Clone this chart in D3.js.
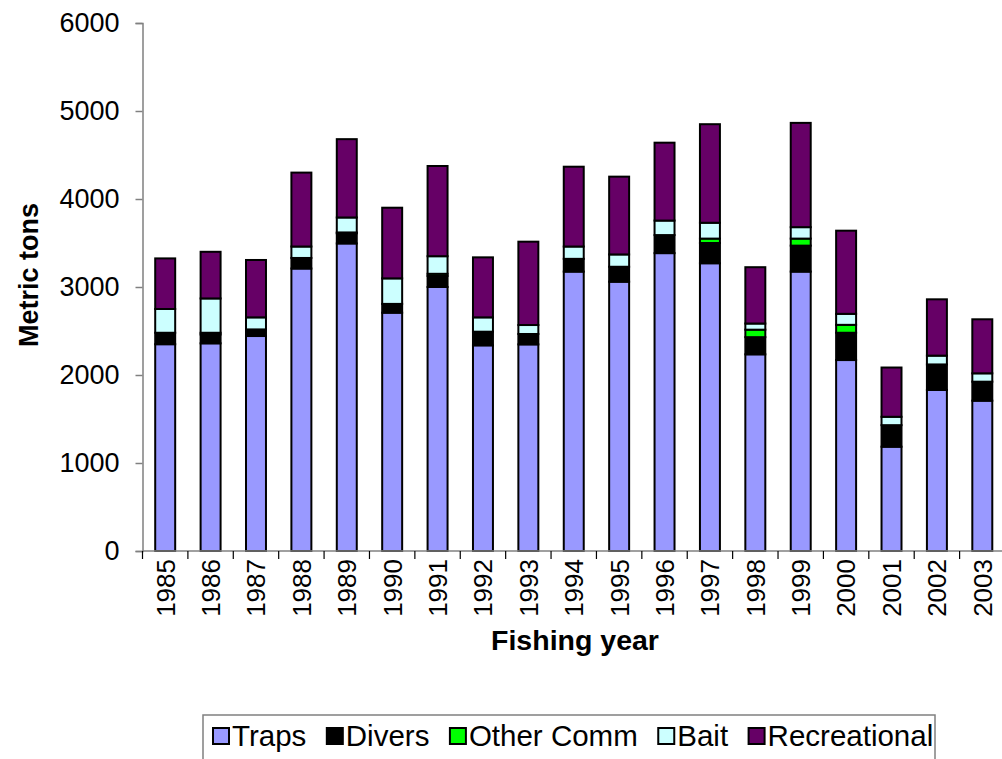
<!DOCTYPE html>
<html>
<head>
<meta charset="utf-8">
<script src="https://cdn.jsdelivr.net/npm/d3@7"></script>
<style>
  html, body { margin: 0; padding: 0; background: #fff; }
  svg { display: block; font-family: Arial, "Liberation Sans", sans-serif; }
</style>
</head>
<body>
<svg id="chart" width="1002" height="759"></svg>
<script>
// Landings by fishing year, metric tons, by sector
const years = ["1985","1986","1987","1988","1989","1990","1991","1992","1993","1994",
               "1995","1996","1997","1998","1999","2000","2001","2002","2003"];
const traps        = [2350, 2360, 2443, 3210, 3495, 2708, 3000, 2337, 2348, 3175, 3060, 3385, 3270, 2235, 3175, 2170, 1185, 1830, 1708];
const divers       = [ 130,  100,   75,  120,  115,  100,  125,  155,  118,  145,  170,  205,  230,  195,  295,  310,  245,  290,  216];
const otherComm    = [   0,   20,    0,    0,   10,    0,   25,    0,    0,    0,    0,    0,   50,   85,   80,   90,    0,    0,    0];
const bait         = [ 270,  390,  137,  130,  170,  290,  200,  163,  102,  140,  140,  165,  180,   70,  130,  125,   95,  100,   95];
const recreational = [ 575,  530,  652,  840,  890,  803, 1025,  682,  947,  907,  884,  885, 1120,  640, 1185,  945,  560,  640,  614];
const yTicks = [0, 1000, 2000, 3000, 4000, 5000, 6000];

const seriesNames = ["Traps", "Divers", "Other Comm", "Bait", "Recreational"];
const seriesColors = ["#9999ff", "#000000", "#00ff00", "#ccffff", "#660066"];
const seriesValues = [traps, divers, otherComm, bait, recreational];

const rows = years.map((y, i) => {
  const r = { year: y };
  seriesNames.forEach((n, k) => { r[n] = seriesValues[k][i]; });
  return r;
});

const svg = d3.select("#chart");
const plotLeft = 142.5, plotRight = 1005, plotTop = 23, plotBottom = 551;

const x = d3.scaleBand().domain(years).range([plotLeft, plotRight])
  .paddingInner(0.56).paddingOuter(0.28);
const y = d3.scaleLinear().domain([0, 6000]).range([plotBottom, plotTop]);

const stack = d3.stack().keys(seriesNames);
const layers = stack(rows);

// stacked bars
const g = svg.append("g");
layers.forEach((layer, k) => {
  g.selectAll(null).data(layer.filter(d => d[1] - d[0] > 0)).enter().append("rect")
    .attr("x", d => x(d.data.year))
    .attr("width", x.bandwidth())
    .attr("y", d => y(d[1]))
    .attr("height", d => y(d[0]) - y(d[1]))
    .attr("fill", seriesColors[k])
    .attr("stroke", "#000")
    .attr("stroke-width", 2);
});

// y axis
const yAxis = d3.axisLeft(y).tickValues(yTicks).tickSize(7).tickPadding(16).tickFormat(d3.format("d"));
const ya = svg.append("g").attr("transform", `translate(${plotLeft},0)`).call(yAxis);
ya.select(".domain").attr("stroke", "#808080").attr("stroke-width", 1.5);
ya.selectAll(".tick line").attr("stroke", "#808080").attr("stroke-width", 1.5);
ya.selectAll(".tick text").attr("font-size", 27).attr("fill", "#000")
  .attr("font-family", "Arial, 'Liberation Sans', sans-serif");

// x axis with category separators
const xa = svg.append("g").attr("transform", `translate(0,${plotBottom})`);
xa.append("line").attr("x1", plotLeft).attr("x2", plotRight).attr("y1", 0).attr("y2", 0)
  .attr("stroke", "#808080").attr("stroke-width", 1.5);
const step = x.step();
const bounds = d3.range(years.length + 1).map(i => plotLeft + i * step);
xa.selectAll(".sep").data(bounds).enter().append("line")
  .attr("x1", d => d).attr("x2", d => d).attr("y1", 0).attr("y2", 8)
  .attr("stroke", "#000").attr("stroke-width", 1.2);
xa.selectAll(".lbl").data(years).enter().append("text")
  .attr("transform", d => `translate(${x(d) + x.bandwidth() / 2},8) rotate(-90)`)
  .attr("text-anchor", "end")
  .attr("dy", "0.36em")
  .attr("font-size", 26)
  .text(d => d);

// axis titles
svg.append("text")
  .attr("transform", "translate(38,275) rotate(-90)")
  .attr("text-anchor", "middle")
  .attr("font-weight", "bold")
  .attr("font-size", 27)
  .text("Metric tons");
svg.append("text")
  .attr("x", 575).attr("y", 650)
  .attr("text-anchor", "middle")
  .attr("font-weight", "bold")
  .attr("font-size", 28.5)
  .text("Fishing year");

// legend
const legend = svg.append("g");
legend.append("rect").attr("x", 203).attr("y", 715).attr("width", 732).attr("height", 60)
  .attr("fill", "#fff").attr("stroke", "#808080").attr("stroke-width", 1.5);
let lx = 213;
seriesNames.forEach((n, k) => {
  legend.append("rect").attr("x", lx).attr("y", 728).attr("width", 16).attr("height", 16)
    .attr("fill", seriesColors[k]).attr("stroke", "#000").attr("stroke-width", 2);
  const t = legend.append("text").attr("x", lx + 19).attr("y", 746)
    .attr("font-size", 29.5).text(n);
  lx += 19 + t.node().getComputedTextLength() + 20.5;
});
</script>
</body>
</html>
